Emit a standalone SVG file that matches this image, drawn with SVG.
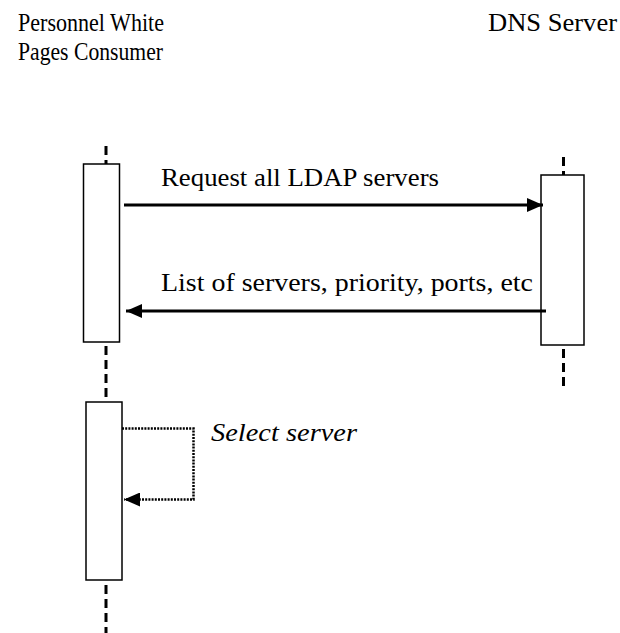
<svg xmlns="http://www.w3.org/2000/svg" width="620" height="633" viewBox="0 0 620 633">
<style>
.t{font-family:"Liberation Serif","Times New Roman",serif;font-size:26px;fill:#000}
.i{font-style:italic}
.life{stroke:#000;stroke-width:3;stroke-dasharray:9 5;fill:none}
.box{fill:#fff;stroke:#000;stroke-width:1.5}
.msg{stroke:#000;stroke-width:3;fill:none}
.self{stroke:#000;stroke-width:2.5;stroke-dasharray:2 1.2;fill:none}
</style>
<defs>
<marker id="ah" viewBox="0 0 16 14" refX="16" refY="7" markerWidth="16" markerHeight="14" markerUnits="userSpaceOnUse" orient="auto">
<path d="M0,0 L16,7 L0,14 Z" fill="#000"/>
</marker>
</defs>
<g id="consumer">
<text class="t" x="18" y="31" textLength="146" lengthAdjust="spacingAndGlyphs">Personnel White</text>
<text class="t" x="18" y="60" textLength="145" lengthAdjust="spacingAndGlyphs">Pages Consumer</text>
<line class="life" x1="106" y1="146" x2="106" y2="164"/>
<line class="life" x1="106" y1="346" x2="106" y2="402"/>
<line class="life" x1="106" y1="585" x2="106" y2="633"/>
<rect id="act1" class="box" x="83.5" y="164" width="36" height="178"/>
<rect id="act2" class="box" x="86" y="402" width="36" height="178"/>
</g>
<g id="dns">
<text class="t" x="488" y="31" textLength="129" lengthAdjust="spacingAndGlyphs">DNS Server</text>
<line class="life" x1="563.5" y1="157" x2="563.5" y2="175"/>
<line class="life" x1="563.5" y1="349" x2="563.5" y2="388"/>
<rect id="act3" class="box" x="541" y="175" width="43" height="170"/>
</g>
<g id="connectors">
<line class="msg" x1="124" y1="205" x2="543" y2="205" marker-end="url(#ah)"/>
<text class="t" x="161" y="186" textLength="278" lengthAdjust="spacingAndGlyphs">Request all LDAP servers</text>
<line class="msg" x1="546" y1="311" x2="126" y2="311" marker-end="url(#ah)"/>
<text class="t" x="161" y="291" textLength="372" lengthAdjust="spacingAndGlyphs">List of servers, priority, ports, etc</text>
<path class="self" d="M122,428.5 H193.5 V499.5 H124" marker-end="url(#ah)"/>
<text class="t i" x="211" y="441" textLength="146" lengthAdjust="spacingAndGlyphs">Select server</text>
</g>
</svg>
